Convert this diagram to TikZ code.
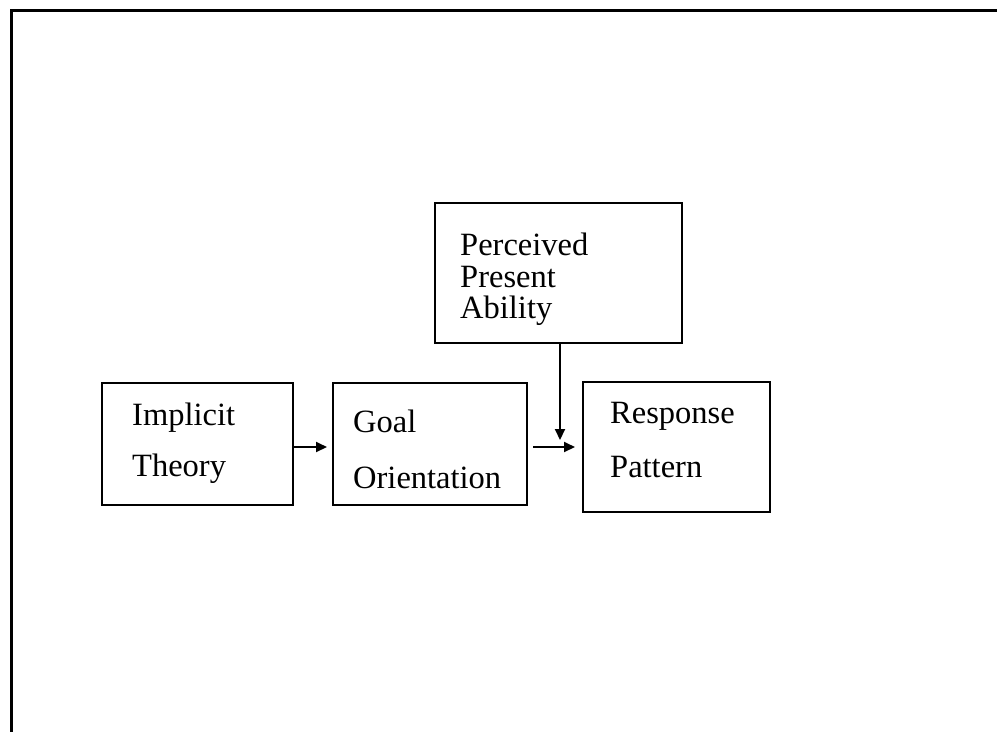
\documentclass[tikz,border=0pt]{standalone}
\usepackage{fontspec}
\setmainfont{Liberation Serif}
\usetikzlibrary{arrows.meta}
\begin{document}
\begin{tikzpicture}[x=1pt,y=-1pt,
  box/.style={draw=black,line width=2pt,inner sep=0pt},
  lbl/.style={anchor=base west,inner sep=0pt,font=\fontsize{32.5}{39}\selectfont},
  arr/.style={line width=2pt,-{Triangle[length=11pt,width=10pt]}}]
\useasboundingbox (0,0) rectangle (997,732);
\draw[line width=3pt] (997,10) -- (11,10) -- (11,732);
% boxes
\node[box,minimum width=191pt,minimum height=122pt] (it) at (197.5,444) {};
\node[box,minimum width=194pt,minimum height=122pt] (go) at (430,444) {};
\node[box,minimum width=187pt,minimum height=130pt] (rp) at (676.5,447) {};
\node[box,minimum width=247pt,minimum height=140pt] (pa) at (558.5,273) {};
% texts
\node[lbl] (t1) at (132,425) {Implicit};
\node[lbl] (t2) at (132,476) {Theory};
\node[lbl] (t3) at (353,432) {Goal};
\node[lbl] (t4) at (353,488) {Orientation};
\node[lbl] (t5) at (610,423) {Response};
\node[lbl] (t6) at (610,477) {Pattern};
\node[lbl] (t7) at (460,255) {Perceived};
\node[lbl] (t8) at (460,287) {Present};
\node[lbl] (t9) at (460,318) {Ability};
% connectors
\coordinate (gout) at (533,447);
\coordinate (vend) at (560,440);
\draw[arr,shorten >=5pt] (it.east |- 0,447) -- (go.west |- 0,447);
\draw[arr,shorten >=7pt] (gout) -- (rp.west |- gout);
\draw[arr] (pa.south -| vend) -- (vend);
\end{tikzpicture}
\end{document}
